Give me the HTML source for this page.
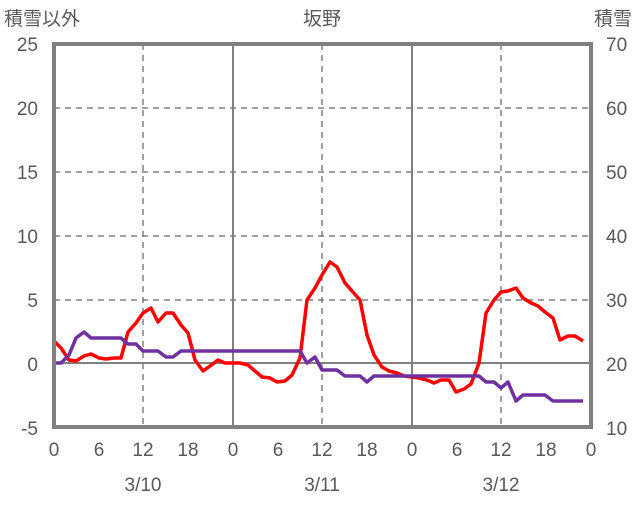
<!DOCTYPE html><html><head><style>body{margin:0;background:#fff}</style></head><body>
<svg width="636" height="501" xmlns="http://www.w3.org/2000/svg" font-family="Liberation Sans, Noto Sans CJK JP, sans-serif" fill="#595959">
<g stroke="#808080" stroke-width="1.5" stroke-dasharray="6,5">
<line x1="54" x2="591" y1="108" y2="108"/><line x1="54" x2="591" y1="172" y2="172"/><line x1="54" x2="591" y1="236" y2="236"/><line x1="54" x2="591" y1="300" y2="300"/>
<line x1="143" x2="143" y1="44" y2="427"/><line x1="322" x2="322" y1="44" y2="427"/><line x1="501" x2="501" y1="44" y2="427"/>
</g>
<g stroke="#808080" stroke-width="2"><line x1="233" x2="233" y1="44" y2="427"/><line x1="412" x2="412" y1="44" y2="427"/><line x1="54" x2="591" y1="363" y2="363"/></g>
<polyline fill="none" stroke="#ff0000" stroke-width="3.5" stroke-linejoin="round" points="54,341 61,348 69,360 76,361 84,356 91,354 99,358 106,359 114,358 121,358 128,332 136,323 143,313 151,308 158,322 166,313 173,313 181,325 188,333 195,360 203,371 210,366 218,360 225,363 233,363 240,363 248,365 255,371 262,377 270,378 277,382 285,381 292,375 300,358 307,300 315,288 322,275 330,262 337,267 345,283 352,291 360,300 367,335 374,355 382,367 389,371 397,373 404,376 412,377 419,378 427,380 434,383 441,380 449,380 456,392 464,389 471,384 479,363 486,313 494,300 501,292 508,291 516,288 523,298 531,303 538,306 545,312 553,318 560,340 568,336 575,336 583,341"/>
<polyline fill="none" stroke="#7030a0" stroke-width="3.5" stroke-linejoin="round" points="54,363 61,363 69,355 76,338 84,332 91,338 121,338 128,344 136,344 143,351 158,351 166,357 173,357 181,351 300,351 307,363 315,357 322,370 337,370 345,376 360,376 367,382 374,376 479,376 486,382 494,382 501,388 508,382 516,401 523,395 545,395 553,401 583,401"/>
<rect x="54" y="44" width="537" height="383" fill="none" stroke="#808080" stroke-width="4"/>
<g font-size="19" text-anchor="end">
<text x="38" y="51">25</text><text x="38" y="115">20</text><text x="38" y="179">15</text><text x="38" y="243">10</text><text x="38" y="307">5</text><text x="38" y="371">0</text><text x="38" y="435">-5</text></g>
<g font-size="19" text-anchor="start">
<text x="606" y="51">70</text><text x="606" y="115">60</text><text x="606" y="179">50</text><text x="606" y="243">40</text><text x="606" y="307">30</text><text x="606" y="371">20</text><text x="606" y="435">10</text></g>
<g font-size="19" text-anchor="middle">
<text x="54" y="456">0</text><text x="99" y="456">6</text><text x="143" y="456">12</text><text x="188" y="456">18</text><text x="233" y="456">0</text><text x="278" y="456">6</text><text x="322" y="456">12</text><text x="367" y="456">18</text><text x="412" y="456">0</text><text x="457" y="456">6</text><text x="501" y="456">12</text><text x="546" y="456">18</text><text x="591" y="456">0</text>
<text x="143" y="491">3/10</text><text x="322" y="491">3/11</text><text x="501" y="491">3/12</text>
<text x="322" y="25">坂野</text></g>
<text x="4" y="25" font-size="19">積雪以外</text>
<text x="632" y="25" font-size="19" text-anchor="end">積雪</text>
</svg></body></html>
